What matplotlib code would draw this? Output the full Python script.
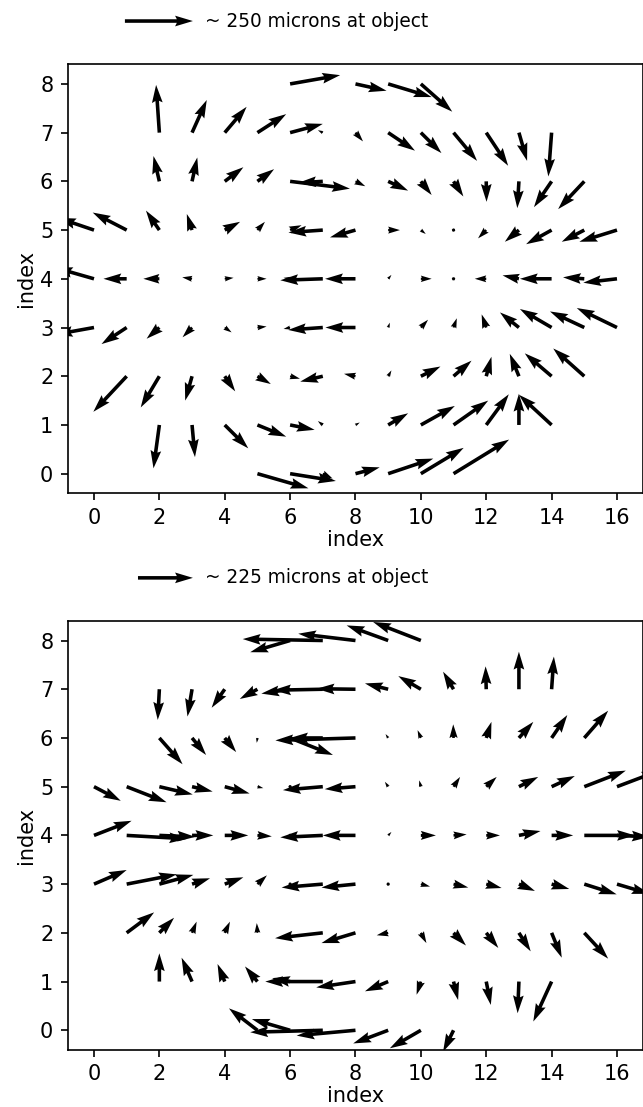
import matplotlib
matplotlib.use('Agg')
import numpy as np
import matplotlib.pyplot as plt

# upper map: grid position (x, y) and displacement (u, v), one line per row
top_x = [6, 8, 9, 10,
         2, 3, 4, 5, 6, 7, 8, 9, 10, 11, 12, 13, 14,
         2, 3, 4, 5, 6, 7, 8, 9, 10, 11, 12, 13, 14, 15,
         0, 1, 2, 3, 4, 5, 6, 7, 8, 9, 10, 11, 12, 13, 14, 15, 16,
         0, 1, 2, 3, 4, 5, 6, 7, 8, 9, 10, 11, 12, 13, 14, 15, 16,
         0, 1, 2, 3, 4, 5, 6, 7, 8, 9, 10, 11, 12, 13, 14, 15, 16,
         1, 2, 3, 4, 5, 6, 7, 8, 9, 10, 11, 12, 13, 14, 15,
         2, 3, 4, 5, 6, 7, 8, 9, 10, 11, 12, 13, 14,
         5, 6, 7, 8, 9, 10, 11]
top_y = [8]*4 + [7]*13 + [6]*14 + [5]*17 + [4]*17 + [3]*17 + [2]*15 + [1]*13 + [0]*7
top_u = [1.53, 0.95, 1.33, 0.96,
         -0.10, 0.45, 0.67, 0.88, 1.00, -0.15, 0.23, 0.82, 0.63, 0.72, 0.67, 0.25, -0.10,
         -0.18, 0.16, 0.57, 0.51, 1.83, -0.75, 0.30, 0.61, 0.33, 0.30, 0.01, -0.05, -0.54, -0.80,
         -1.10, -1.04, -0.41, -0.16, 0.47, 0.23, 0.35, -1.05, -0.78, 0.36, 0.15, 0.02, -0.25, -0.43, -0.78, -0.69, -1.15,
         -1.20, -0.71, -0.49, -0.30, 0.27, 0.28, -0.20, -1.30, -0.93, 0.10, 0.33, 0.03, -0.35, -0.50, -0.97, -0.65, -1.03,
         -1.20, -0.77, -0.39, -0.29, 0.21, 0.28, -0.20, -1.06, -0.92, 0.05, 0.22, 0.10, -0.14, -0.58, -0.97, -1.05, -1.23,
         -1.02, -0.57, -0.21, 0.32, 0.41, 0.30, -0.69, -0.35, 0.10, 0.60, 0.55, 0.16, -0.28, -0.82, -0.95,
         -0.18, 0.09, 0.72, 0.88, 0.75, -0.15, 0.13, 0.61, 1.04, 1.06, 0.69, 0.00, -1.00,
         1.56, 1.40, 0.30, 0.74, 1.38, 1.31, 1.70]
top_v = [0.18, -0.14, -0.27, -0.57,
         0.98, 0.67, 0.53, 0.38, 0.18, 0.05, -0.18, -0.37, -0.42, -0.58, -0.68, -0.58, -0.90,
         0.52, 0.49, 0.29, 0.25, -0.15, -0.03, -0.10, -0.19, -0.28, -0.31, -0.42, -0.55, -0.53, -0.57,
         0.25, 0.36, 0.40, 0.33, 0.17, 0.17, 0.10, -0.05, -0.15, 0.00, -0.08, -0.05, -0.17, -0.24, -0.29, -0.24, -0.24,
         0.23, 0.00, 0.00, 0.03, 0.02, 0.00, 0.02, -0.03, 0.00, 0.08, 0.00, 0.00, 0.00, 0.07, 0.00, 0.03, -0.08,
         -0.145, -0.34, -0.23, -0.20, -0.10, 0.02, -0.03, -0.05, 0.00, 0.10, 0.16, 0.19, 0.27, 0.31, 0.38, 0.33, 0.40,
         -0.73, -0.64, -0.50, -0.31, -0.16, -0.05, -0.11, 0.05, 0.12, 0.20, 0.32, 0.40, 0.46, 0.47, 0.57,
         -0.89, -0.66, -0.48, -0.24, -0.10, 0.08, 0.05, 0.24, 0.39, 0.50, 0.63, 0.64, 0.62,
         -0.30, -0.15, -0.10, 0.13, 0.31, 0.53, 0.70]

# lower map
bot_x = [6, 7, 8, 9, 10,
         2, 3, 4, 5, 6, 7, 8, 9, 10, 11, 12, 13, 14,
         2, 3, 4, 5, 6, 7, 8, 9, 10, 11, 12, 13, 14, 15,
         0, 1, 2, 3, 4, 5, 6, 7, 8, 9, 10, 11, 12, 13, 14, 15, 16,
         0, 1, 2, 3, 4, 5, 6, 7, 8, 9, 10, 11, 12, 13, 14, 15, 16,
         0, 1, 2, 3, 4, 5, 6, 7, 8, 9, 10, 11, 12, 13, 14, 15, 16,
         1, 2, 3, 4, 5, 7, 8, 9, 10, 11, 12, 13, 14, 15,
         2, 3, 4, 5, 6, 7, 8, 9, 10, 11, 12, 13, 14,
         5, 6, 7, 8, 9, 10, 11]
bot_y = [8]*5 + [7]*13 + [6]*14 + [5]*17 + [4]*17 + [3]*17 + [2]*14 + [1]*13 + [0]*7
bot_u = [-1.22, -2.45, -1.75, -1.27, -1.46,
         -0.05, -0.14, -0.40, -0.54, -0.88, -1.52, -1.19, -0.71, -0.69, -0.32, -0.02, 0.00, 0.07,
         0.71, 0.43, 0.35, -0.02, 1.31, -1.00, -2.45, -0.08, -0.10, -0.01, 0.16, 0.44, 0.48, 0.73,
         0.82, 1.22, 1.02, 0.63, 0.76, 0.18, 0.05, -1.22, -0.94, -0.10, -0.05, 0.20, 0.32, 0.59, 0.71, 1.27, 1.30,
         1.15, 1.85, 1.10, 0.65, 0.72, 0.44, 0.05, -1.30, -1.00, 0.10, 0.46, 0.40, 0.42, 0.66, 0.66, 1.55, 1.00,
         1.00, 1.53, 1.04, 0.55, 0.57, 0.29, 0.05, -1.26, -1.04, 0.02, 0.28, 0.45, 0.47, 0.49, 0.54, 0.99, 1.00,
         0.84, 0.45, 0.14, 0.16, -0.02, -1.46, -1.04, -0.35, 0.17, 0.38, 0.37, 0.36, 0.31, 0.73,
         0.00, -0.32, -0.22, -0.38, -0.55, -1.76, -1.20, -0.71, -0.13, 0.14, 0.14, -0.04, -0.56,
         -0.87, -1.17, -2.22, -1.80, -1.07, -0.95, -0.32]
bot_v = [-0.24, 0.03, 0.14, 0.31, 0.38,
         -0.63, -0.56, -0.38, -0.20, -0.09, -0.02, 0.01, 0.12, 0.27, 0.36, 0.47, 0.77, 0.67,
         -0.54, -0.35, -0.29, -0.10, -0.35, 0.00, -0.05, 0.08, 0.16, 0.28, 0.33, 0.33, 0.47, 0.56,
         -0.29, -0.32, -0.16, -0.10, -0.14, -0.03, 0.00, -0.07, -0.05, 0.10, 0.13, 0.20, 0.20, 0.20, 0.22, 0.33, 0.33,
         0.30, -0.07, -0.03, 0.00, 0.00, -0.02, 0.00, -0.04, 0.00, 0.07, 0.00, 0.02, 0.00, 0.09, 0.00, 0.00, -0.03,
         0.29, 0.20, 0.19, 0.12, 0.14, 0.18, 0.00, -0.07, -0.07, 0.00, -0.05, -0.07, -0.08, -0.14, -0.10, -0.21, -0.20,
         0.42, 0.31, 0.23, 0.23, 0.20, -0.11, -0.21, -0.05, -0.21, -0.26, -0.31, -0.38, -0.51, -0.53,
         0.58, 0.49, 0.36, 0.31, 0.07, 0.00, -0.12, -0.20, -0.27, -0.38, -0.48, -0.65, -0.82,
         0.45, 0.23, -0.04, -0.11, -0.27, -0.37, -0.44]

key_len = [2.08, 1.68]
key_text = ['~ 250 microns at object', '~ 225 microns at object']

plt.rcParams['font.size'] = 10

fig = plt.figure(figsize=(643/150, 1107/150), dpi=150)
ax1 = fig.add_axes([0.1055, 0.5545, 0.8947, 0.3873])
ax2 = fig.add_axes([0.1055, 0.0517, 0.8947, 0.3873])

panels = [(ax1, top_x, top_y, top_u, top_v, 0.981),
          (ax2, bot_x, bot_y, bot_u, bot_v, 0.478)]

for i, (ax, x, y, u, v, ky) in enumerate(panels):
    q = ax.quiver(x, y, u, v, angles='xy', scale_units='xy', scale=1,
                  color='black', width=0.0062)
    ax.quiverkey(q, 0.300, ky, key_len[i], key_text[i], labelpos='E',
                 coordinates='figure', labelsep=0.08, fontproperties={'size': 8.9})
    ax.set_xlim(-0.8, 16.8)
    ax.set_ylim(-0.4, 8.4)
    ax.set_xticks(np.arange(0, 17, 2))
    ax.set_yticks(np.arange(0, 9, 1))
    ax.set_xlabel('index', labelpad=1)
    ax.set_ylabel('index', labelpad=2)

fig.savefig('out.png', dpi=150)
